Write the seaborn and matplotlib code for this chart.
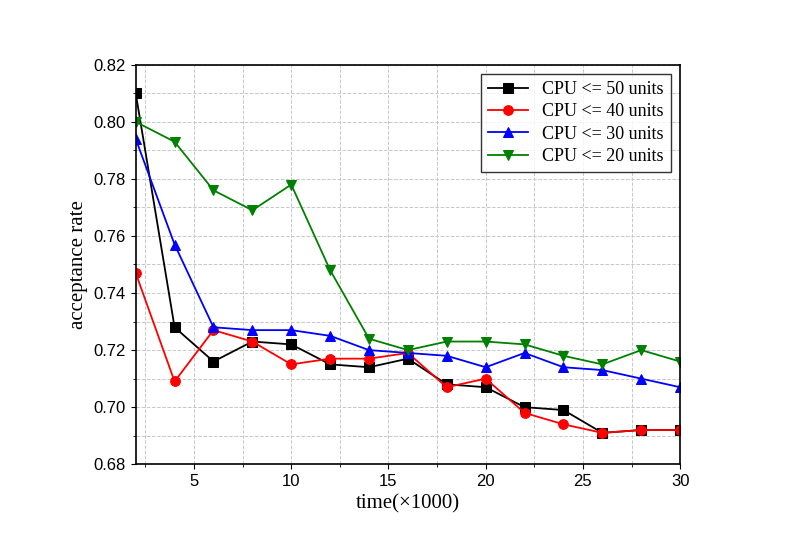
import matplotlib
matplotlib.use("Agg")
import matplotlib.pyplot as plt
import seaborn as sns
import pandas as pd
from matplotlib.ticker import MultipleLocator

time = [2,4,6,8,10,12,14,16,18,20,22,24,26,28,30]
cpu50 = [0.810,0.728,0.716,0.723,0.722,0.715,0.714,0.717,0.708,0.707,0.700,0.699,0.691,0.692,0.692]
cpu40 = [0.747,0.709,0.727,0.723,0.715,0.717,0.717,0.719,0.707,0.710,0.698,0.694,0.691,0.692,0.692]
cpu30 = [0.794,0.757,0.728,0.727,0.727,0.725,0.720,0.719,0.718,0.714,0.719,0.714,0.713,0.710,0.707]
cpu20 = [0.800,0.793,0.776,0.769,0.778,0.748,0.724,0.720,0.723,0.723,0.722,0.718,0.715,0.720,0.716]
labels = ["CPU <= 50 units","CPU <= 40 units","CPU <= 30 units","CPU <= 20 units"]
colors = ["black","red","blue","green"]
markers = ["s","o","^","v"]

rows = []
for lab, vals in zip(labels, [cpu50,cpu40,cpu30,cpu20]):
    for t, v in zip(time, vals):
        rows.append({"time": t, "rate": v, "series": lab})
df = pd.DataFrame(rows)

fig = plt.figure(figsize=(7.89,5.58), dpi=100)
ax = fig.add_axes([0.172, 0.168, 0.690, 0.716])
ax.set_axisbelow(True)
ax.xaxis.set_minor_locator(MultipleLocator(2.5))
ax.yaxis.set_minor_locator(MultipleLocator(0.01))
ax.grid(True, which="both", linestyle="--", color="#c8c8c8", linewidth=0.7)
for lab, c, m in zip(labels, colors, markers):
    sub = df[df.series == lab]
    sns.lineplot(data=sub, x="time", y="rate", ax=ax, color=c, marker=m,
                 markersize=7, markeredgecolor=c, linewidth=1.3, label=lab)
ax.set_xlim(2,30)
ax.set_ylim(0.68,0.82)
ax.set_xticks([5,10,15,20,25,30])
ax.set_yticks([0.68,0.70,0.72,0.74,0.76,0.78,0.80,0.82])
ax.set_yticklabels([f"{v:.2f}" for v in [0.68,0.70,0.72,0.74,0.76,0.78,0.80,0.82]])
ax.tick_params(labelsize=12, direction="out")
for lbl in ax.get_xticklabels()+ax.get_yticklabels():
    lbl.set_family("Liberation Sans")
ax.set_xlabel("time(×1000)", fontsize=15, family="Liberation Serif")
ax.set_ylabel("acceptance rate", fontsize=15, family="Liberation Serif")
for s in ax.spines.values():
    s.set_linewidth(1.2)
leg = ax.legend(loc="upper right", prop={"family":"Liberation Serif","size":13},
                frameon=True, fancybox=False, edgecolor="black", handlelength=2.2,
                borderaxespad=0.5, labelspacing=0.3)
leg.get_frame().set_linewidth(1.0)
fig.savefig("out.png", dpi=100)
